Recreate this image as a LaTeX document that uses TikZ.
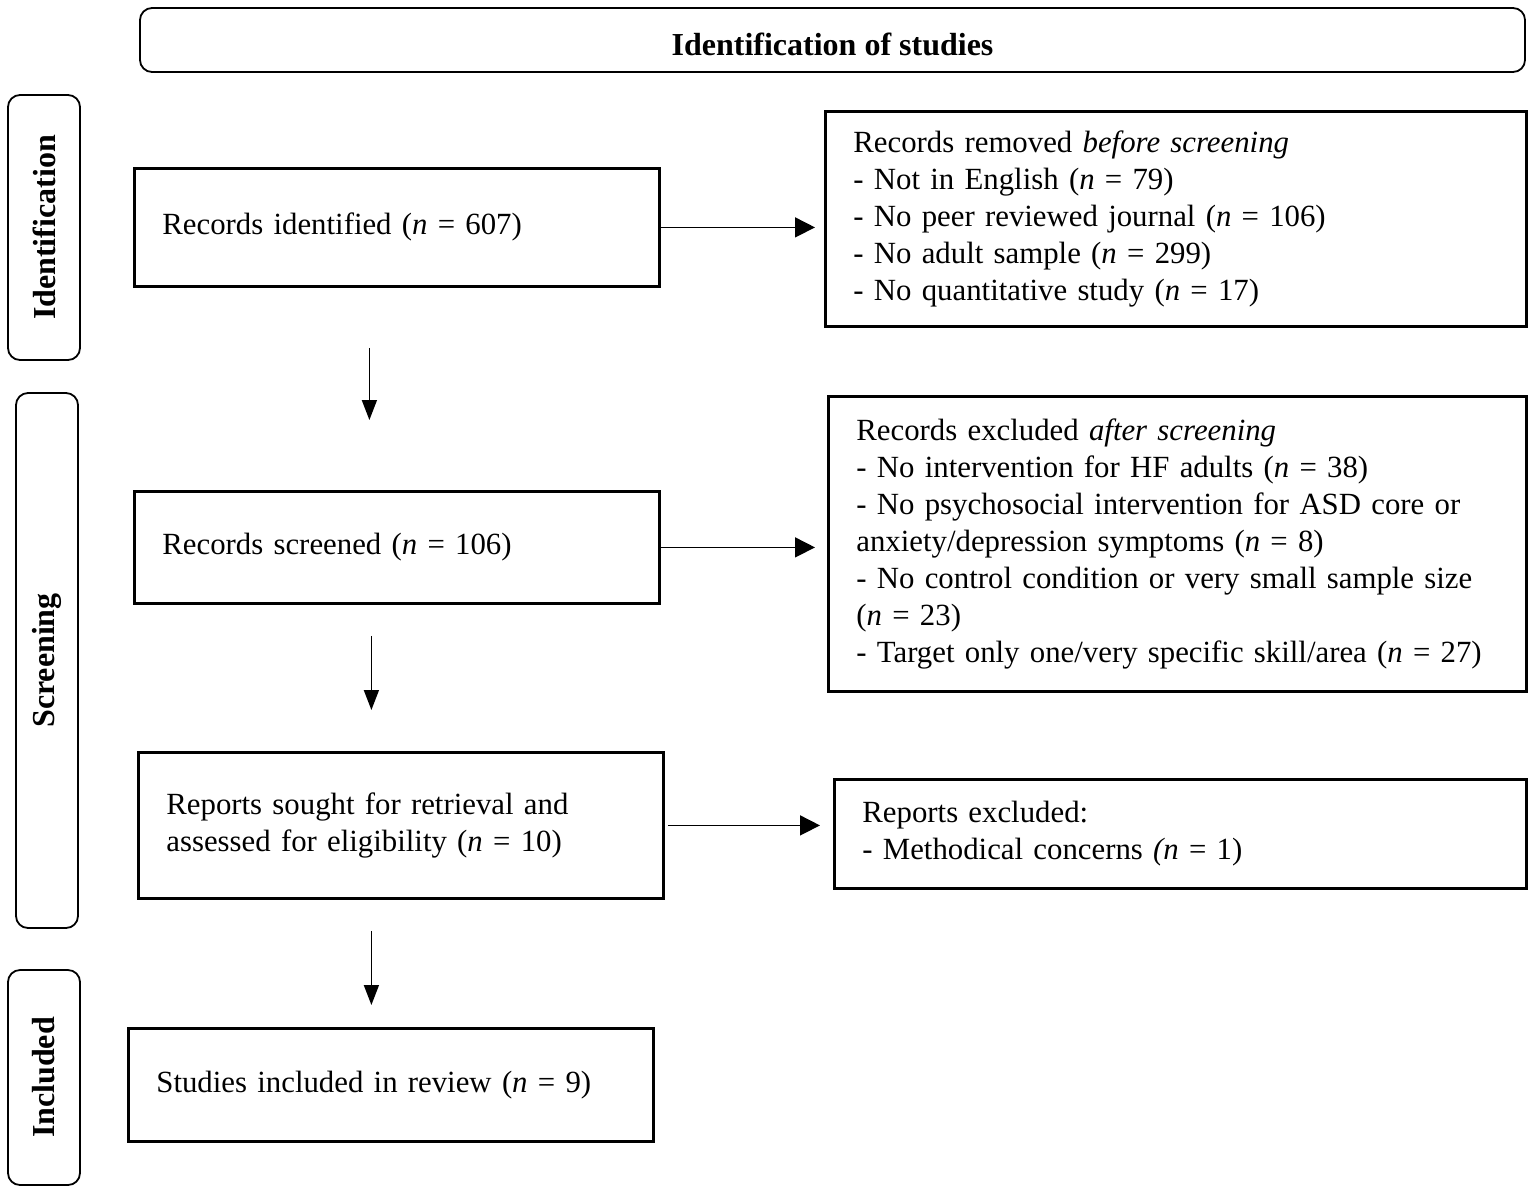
\documentclass[tikz,border=0pt]{standalone}
\usepackage{fontspec}
\setmainfont{Liberation Serif}
\usetikzlibrary{arrows.meta,calc}
\begin{document}
\begin{tikzpicture}[x=0.5pt,y=-0.5pt,
        box/.style={draw,line width=1.4pt,inner xsep=14pt,inner ysep=0pt,align=left,anchor=north west,font=\fontsize{15.4pt}{18.5pt}\selectfont},
        phase/.style={draw,line width=0.9pt,rounded corners=6pt,rotate=90,inner sep=0pt,font=\bfseries\fontsize{16pt}{18pt}\selectfont},
        arr/.style={line width=0.8pt,-{Triangle[length=10pt,width=10pt]}},
        down/.style={line width=0.8pt,-{Triangle[length=10pt,width=7.5pt]}}]
        \useasboundingbox (0,0) rectangle (1535,1195);
        \node[draw,line width=0.9pt,rounded corners=6pt,minimum width=692.5pt,minimum height=32pt] (title) at (832.5,40) {};
        \node[font=\bfseries\fontsize{16pt}{18pt}\selectfont] (titletext) at (832.5,44) {Identification of studies};
        \node[phase,minimum width=132.5pt,minimum height=36pt] (phid) at (44,227.5) {Identification};
        \node[phase,minimum width=267.5pt,minimum height=31pt] (phsc) at (47,660.5) {Screening};
        \node[phase,minimum width=107.5pt,minimum height=36pt] (phin) at (44,1077.5) {Included};
        \node[box,text width=234.5pt,minimum height=59pt] (ident) at (133,167) {Records identified (\textit{n} = 607)};
        \node[box,text width=322.5pt,minimum height=107.5pt] (removed) at (824,110) {Records removed \textit{before screening}\\
            - Not in English (\textit{n} = 79)\\
            - No peer reviewed journal (\textit{n} = 106)\\
            - No adult sample (\textit{n} = 299)\\
            - No quantitative study (\textit{n} = 17)};
        \node[box,text width=234.5pt,minimum height=56pt] (screened) at (133,490) {Records screened (\textit{n} = 106)};
        \node[box,text width=321pt,minimum height=147.5pt] (excluded) at (827,395) {Records excluded \textit{after screening}\\
            - No intervention for HF adults (\textit{n} = 38)\\
            - No psychosocial intervention for ASD core or\\
            anxiety/depression symptoms (\textit{n} = 8)\\
            - No control condition or very small sample size\\
            (\textit{n} = 23)\\
            - Target only one/very specific skill/area (\textit{n} = 27)};
        \node[box,text width=234.5pt,minimum height=73pt] (sought) at (137,751) {Reports sought for retrieval and\\
            assessed for eligibility (\textit{n} = 10)};
        \node[box,text width=318pt,minimum height=54.5pt] (reports) at (833,778) {Reports excluded:\\
            - Methodical concerns \textit{(n} = 1)};
        \node[box,text width=234.5pt,minimum height=56.5pt] (included) at (127,1027) {Studies included in review (\textit{n} = 9)};
        \draw[arr,shorten >=4.5pt] (ident.east) -- (ident.east -| removed.west);
        \draw[arr,shorten >=6pt] (screened.east) -- (screened.east -| excluded.west);
        \draw[arr,shorten <=1.5pt,shorten >=6.5pt] (sought.east) -- (sought.east -| reports.west);
        \draw[down] ($(ident.south)+(-27.5,60)$) -- ($(screened.north)+(-27.5,-70)$);
        \draw[down] ($(screened.south)+(-25.5,31)$) -- ($(sought.north)+(-29.5,-41)$);
        \draw[down] ($(sought.south)+(-29.5,31)$) -- ($(included.north)+(-19.5,-22)$);
    \end{tikzpicture}
\end{document}
